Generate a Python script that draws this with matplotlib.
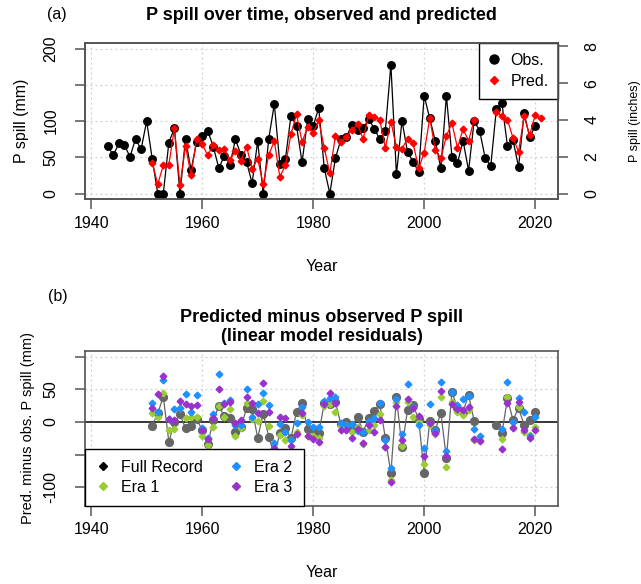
import numpy as np
import matplotlib
matplotlib.use("Agg")
import matplotlib.pyplot as plt
from matplotlib.lines import Line2D

plt.rcParams['font.family'] = ['Liberation Sans', 'DejaVu Sans']

nan = np.nan
years = list(range(1943, 2022))
obs = [65.7, 52.8, 69.4, 66.7, 50.9, 75.5, 61.1, 100, 48.1, 0, 0, 70.4, 90.3, 0, 75.5, 32.4,
       70.8, 79.6, 87, 64.8, 35.2, 51.9, 39.8, 75, 53.2, 43.5, 14.4, 72.2, 0, 75.9, 123.6, 40.7,
       47.7, 107.4, 93.5, 43, 102.8, 93.5, 118, 34.7, 0, 48.6, 75, 78.7, 94.4, 88, 90.3, 102.8,
       89.8, 75, 87, 177.8, 26.4, 100.5, 57.4, 44, 30, 135.2, 103.7, 72.7, 34.7, 135.2, 50.9,
       42.1, 73.1, 31.5, 100.5, 86.6, 48.6, 38.4, 116.7, 125, 65.7, 74.1, 36.6, 111, 77.8, 93.5, nan]
pred = [nan, nan, nan, nan, nan, nan, nan, nan, 42.6, 13, 38.9, 39.8, 90.3, 11.6, 65.7, 25.5,
        75, 68, 52.8, 67.1, 59.7, 61.1, 46.3, 59.3, 45.4, 64.8, 34.3, 48.1, 12.5, 53.7, 72.2, 23.1,
        38.9, 82.4, 109.3, 71.3, 91.7, 83.3, 101, 63, 27.8, 79.6, 71.3, 78.7, 88, 95.4, 75.5, 108.3,
        106, 101.9, 63, 99.5, 63.9, 61.6, 75.9, 69.4, 34.7, 56.5, 104.6, 60.2, 48.6, 79.6, 97.2,
        63, 88.9, 73.1, 101.9, nan, nan, nan, 112, 107.4, 101.9, 76.8, 57.9, 106.5, 81, 108.3, 103.7]

res_years = list(range(1951, 2021))
resid_full = [-5.5, 13, 38.9, -30.6, 0, 11.6, -9.8, -6.9, 4.2, -11.6, -34.2, 2.3, 24.5, 9.2, 6.5,
              -15.7, -7.8, 21.3, 19.9, -24.1, 12.5, -22.2, -51.4, -17.6, -8.8, -25, 15.8, 28.3,
              -11.1, -10.2, -17, 28.3, 27.8, 31, -3.7, 0, -6.4, 7.4, -14.8, 5.5, 16.2, 26.9, -24,
              -78.3, 37.5, -38.9, 18.5, 25.4, 4.7, -78.7, 0.9, -12.5, 13.9, -55.6, 46.3, 20.9,
              15.8, 41.6, 1.4, nan, nan, nan, -4.7, -17.6, 36.2, 2.7, 21.3, -4.5, 3.2, 14.8]
resid_era1 = [14, 8, 45, -13, -11, 22, 6.6, 7, 7, -21, -35, -7, 24, 8, 20,
              -22, -9, 28.5, 4.6, 2, 32, -5.6, -45, -20, -27, -27, -16, 10,
              -21, -21, -25, 25, 27, 14.8, -5.6, -5, -15, -8, -34, -12, -4.6, 12, -37.7,
              -88.7, 30, -36.7, 31, 7, 0.5, -65, -4.6, -19, 38.7, -69.3, 31, 16,
              10.7, 18.3, -28, -27.5, nan, nan, nan, -26, 38.7, -7, 23.4, -16, -20, -8]
resid_era2 = [28.5, 15, 64, 4.6, 20, 21, 43, 16, 41, -8.5, -24, 12, 73, 29, 34,
              -4, -4.6, 51, 7, 27, 45, 26, -32.6, -3, -15, -28, -1, 23.4,
              0.5, -8, -7, 32.6, 36, 37.7, -2, -5, -3, -14, -16, 1.5, 6.6, 28.5, -27,
              -70, 35, -18, 58.6, 23, -4.6, -40, 27.5, -13, 61.7, -44, 46, 26,
              35.7, 40, -10.7, -21, nan, nan, nan, -10.7, 61.2, 0, 36, 14.8, -21, 8]
resid_era3 = [22, 43, 70, 4, 3, 32, 27, 25, 26, -12, -26, 6.6, 50.5, 27, 30,
              -2, 3, 38.7, 28.5, 14, 59, 16, -40, 8, 6, -36, -18, 14,
              -21, -26, -30, 27.5, 44, 29.6, -13, -12, -24, -10, -32.6, -4.6, -16, 3, -37.7,
              -92, 24.5, -27.5, 34.7, 21, 9, -52, -1, -17.3, 47.4, -52, 27, 20,
              18, 23.4, -26, -29, nan, nan, nan, -40.8, 28.5, -9, 30, -12, -24, -13]

W, H = 641, 584
fig = plt.figure(figsize=(W / 100, H / 100), dpi=100)


def fx(px):
    return px / W


def fy(py):
    return 1 - py / H


L, R = 84.7, 558.3
ax1 = fig.add_axes([fx(L), fy(199.3), fx(R - L), (199.3 - 43) / H])
ax2 = fig.add_axes([fx(L), fy(505.7), fx(R - L), (505.7 - 350.7) / H])

spine_col = '#555555'
grid_kw = dict(color='#d0d0d0', linestyle=(0, (1.5, 2.5)), linewidth=0.9, zorder=0)
xticks = [1940, 1960, 1980, 2000, 2020]

for ax in (ax1, ax2):
    ax.set_xlim(1938.84, 2024.16)
    ax.set_xticks(xticks)
    ax.set_xticklabels([str(t) for t in xticks])
    for s in ax.spines.values():
        s.set_color(spine_col)
        s.set_linewidth(1.2)
    ax.tick_params(axis='both', direction='out', length=7, width=1.1, color=spine_col,
                   labelsize=11.5, labelcolor='black')
    ax.tick_params(axis='x', pad=5)
    ax.tick_params(axis='y', pad=12, labelrotation=90)
    ax.set_xlabel('Year', fontsize=11.5, labelpad=20)
    for t in xticks:
        ax.axvline(t, **grid_kw)

# ---- Panel (a)
yt = [0, 50, 100, 150, 200]
ax1.set_ylim(-8, 208)
ax1.set_yticks(yt)
ax1.set_yticklabels(['0', '50', '100', '', '200'])
for lab in ax1.get_yticklabels():
    lab.set_va('center')
for t in yt:
    ax1.axhline(t, **grid_kw)
ax1.plot(years, obs, color='black', linewidth=0.9, marker='o', markersize=5.4, zorder=3)
ax1.plot(years, pred, color='red', linewidth=0.9, marker='D', markersize=3.4, zorder=4)
ax1.set_ylabel('P spill (mm)', fontsize=11.5, labelpad=10)

axr = ax1.twinx()
axr.set_ylim(-8 / 25.4, 208 / 25.4)
axr.set_yticks([0, 2, 4, 6, 8])
axr.set_yticklabels(['0', '2', '4', '6', '8'])
for s in axr.spines.values():
    s.set_color(spine_col)
    s.set_linewidth(1.2)
axr.tick_params(axis='y', direction='out', length=7, width=1.1, color=spine_col,
                labelsize=11.5, pad=12, labelrotation=90)
for lab in axr.get_yticklabels():
    lab.set_va('center')
axr.set_ylabel('P spill (inches)', fontsize=9, labelpad=21)

leg1 = ax1.legend(handles=[
    Line2D([], [], color='black', marker='o', linestyle='none', markersize=6.5),
    Line2D([], [], color='red', marker='D', linestyle='none', markersize=4)],
    labels=['Obs.', 'Pred.'], loc='upper right', fontsize=11.5, frameon=True,
    fancybox=False, edgecolor='black', framealpha=1, borderaxespad=0,
    handlelength=0.8, handletextpad=0.6, borderpad=0.6, labelspacing=0.4)
leg1.get_frame().set_linewidth(1.0)
leg1.set_zorder(10)

fig.text(fx(57), fy(15), '(a)', fontsize=11.5, ha='center', va='center')
fig.text(fx(321.5), fy(16), 'P spill over time, observed and predicted', fontsize=13,
         fontweight='bold', ha='center', va='center')

# ---- Panel (b)
ax2.set_ylim(-128, 109)
yt2 = [-100, -50, 0, 50, 100]
ax2.set_yticks(yt2)
ax2.set_yticklabels(['-100', '', '0', '50', ''])
for lab in ax2.get_yticklabels():
    lab.set_va('center')
for t in yt2:
    if t != 0:
        ax2.axhline(t, **grid_kw)
ax2.axhline(0, color='black', linewidth=1.1, zorder=1)
ax2.plot(res_years, resid_full, color='#666666', linewidth=0.9, marker='o', markersize=5.6,
         zorder=3)
ax2.plot(res_years, resid_era1, color='#9ACD32', linestyle='none', marker='D', markersize=3.4,
         zorder=4)
ax2.plot(res_years, resid_era2, color='#1E90FF', linestyle='none', marker='D', markersize=3.4,
         zorder=4)
ax2.plot(res_years, resid_era3, color='#9932CC', linestyle='none', marker='D', markersize=3.4,
         zorder=4)
ax2.set_ylabel('Pred. minus obs. P spill (mm)', fontsize=10.5, labelpad=6)

leg2 = ax2.legend(handles=[
    Line2D([], [], color='black', marker='D', linestyle='none', markersize=4),
    Line2D([], [], color='#9ACD32', marker='D', linestyle='none', markersize=4),
    Line2D([], [], color='#1E90FF', marker='D', linestyle='none', markersize=4),
    Line2D([], [], color='#9932CC', marker='D', linestyle='none', markersize=4)],
    labels=['Full Record', 'Era 1', 'Era 2', 'Era 3'], ncol=2, loc='lower left',
    fontsize=11.5, frameon=True, fancybox=False, edgecolor='black', framealpha=1,
    borderaxespad=0, handlelength=0.9, handletextpad=0.7, borderpad=0.7,
    labelspacing=0.3, columnspacing=1.6)
leg2.get_frame().set_linewidth(1.0)
leg2.set_zorder(10)

fig.text(fx(58), fy(297), '(b)', fontsize=11.5, ha='center', va='center')
fig.text(fx(321.5), fy(327), 'Predicted minus observed P spill\n(linear model residuals)',
         fontsize=13, fontweight='bold', ha='center', va='center', linespacing=1.2)

fig.savefig('out.png', dpi=100)
